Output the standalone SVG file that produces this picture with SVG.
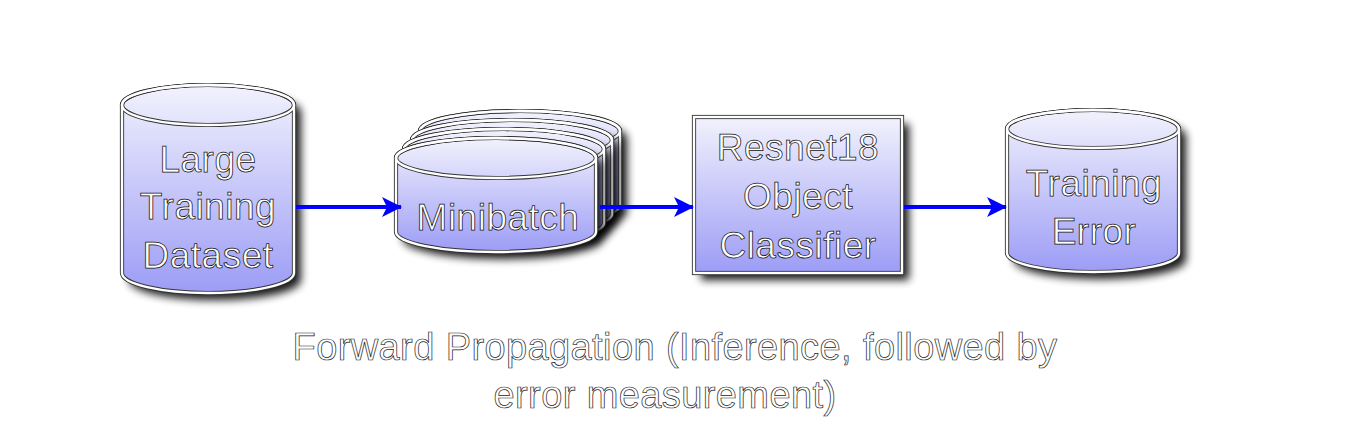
<svg xmlns="http://www.w3.org/2000/svg" width="1349" height="432" viewBox="0 0 1349 432">
<defs>
<linearGradient id="g" x1="0" y1="0" x2="0" y2="1">
<stop offset="0" stop-color="#f2f2fd"/>
<stop offset="1" stop-color="#9c9cf6"/>
</linearGradient>
<filter id="sh" x="-20%" y="-20%" width="150%" height="150%">
<feGaussianBlur in="SourceAlpha" stdDeviation="4"/>
<feOffset dx="7" dy="7"/>
<feComponentTransfer><feFuncA type="linear" slope="0.9"/></feComponentTransfer>
<feMerge><feMergeNode/><feMergeNode in="SourceGraphic"/></feMerge>
</filter>
<marker id="ah" viewBox="0 0 20 20" refX="19" refY="10" markerWidth="20" markerHeight="20" markerUnits="userSpaceOnUse" orient="auto">
<path d="M0,0 L20,10 L0,20 L5,10 Z" fill="#0000ff"/>
</marker>
</defs>
<style>
.edge{stroke:#333;stroke-width:4.2;fill:none}
.in{stroke:#fff;stroke-width:2.4;fill:none}
.body{fill:url(#g)}
.t{font-family:"Liberation Sans",Arial,sans-serif;font-size:37px;fill:#fff;stroke:#111;stroke-width:0.75;text-anchor:middle;letter-spacing:0.5px}
.c{font-family:"Liberation Sans",Arial,sans-serif;font-size:38px;fill:#fff;stroke:#222;stroke-width:0.7;text-anchor:middle;letter-spacing:0.4px}
.conn{stroke:#0000ff;stroke-width:4;fill:none}
</style>

<g id="dataset">
<g filter="url(#sh)">
<path class="body" d="M122,105 L122,273 A86,20 0 0 0 294,273 L294,105 A86,20 0 0 0 122,105 Z"/>
</g>
<path class="edge" d="M122,105 L122,273 A86,20 0 0 0 294,273 L294,105 A86,20 0 0 0 122,105 Z"/>
<ellipse class="edge" cx="208" cy="105" rx="86" ry="20"/>
<path class="in" d="M122,105 L122,273 A86,20 0 0 0 294,273 L294,105 A86,20 0 0 0 122,105 Z"/>
<ellipse class="in" cx="208" cy="105" rx="86" ry="20"/>
<text class="t" x="208" y="172">Large</text>
<text class="t" x="208" y="219">Training</text>
<text class="t" x="208" y="268">Dataset</text>
</g>

<g id="minibatch">
<g transform="translate(24,-27)">
<g filter="url(#sh)"><path class="body" d="M396,158 L396,232 A100,20 0 0 0 596,232 L596,158 A100,20 0 0 0 396,158 Z"/></g>
<path class="edge" d="M396,158 L396,232 A100,20 0 0 0 596,232 L596,158 A100,20 0 0 0 396,158 Z"/>
<ellipse class="edge" cx="496" cy="158" rx="100" ry="20"/>
<path class="in" d="M396,158 L396,232 A100,20 0 0 0 596,232 L596,158 A100,20 0 0 0 396,158 Z"/>
<ellipse class="in" cx="496" cy="158" rx="100" ry="20"/>
</g>
<g transform="translate(16,-18)">
<g filter="url(#sh)"><path class="body" d="M396,158 L396,232 A100,20 0 0 0 596,232 L596,158 A100,20 0 0 0 396,158 Z"/></g>
<path class="edge" d="M396,158 L396,232 A100,20 0 0 0 596,232 L596,158 A100,20 0 0 0 396,158 Z"/>
<ellipse class="edge" cx="496" cy="158" rx="100" ry="20"/>
<path class="in" d="M396,158 L396,232 A100,20 0 0 0 596,232 L596,158 A100,20 0 0 0 396,158 Z"/>
<ellipse class="in" cx="496" cy="158" rx="100" ry="20"/>
</g>
<g transform="translate(8,-9)">
<g filter="url(#sh)"><path class="body" d="M396,158 L396,232 A100,20 0 0 0 596,232 L596,158 A100,20 0 0 0 396,158 Z"/></g>
<path class="edge" d="M396,158 L396,232 A100,20 0 0 0 596,232 L596,158 A100,20 0 0 0 396,158 Z"/>
<ellipse class="edge" cx="496" cy="158" rx="100" ry="20"/>
<path class="in" d="M396,158 L396,232 A100,20 0 0 0 596,232 L596,158 A100,20 0 0 0 396,158 Z"/>
<ellipse class="in" cx="496" cy="158" rx="100" ry="20"/>
</g>
<g filter="url(#sh)"><path class="body" d="M396,158 L396,232 A100,20 0 0 0 596,232 L596,158 A100,20 0 0 0 396,158 Z"/></g>
<path class="edge" d="M396,158 L396,232 A100,20 0 0 0 596,232 L596,158 A100,20 0 0 0 396,158 Z"/>
<ellipse class="edge" cx="496" cy="158" rx="100" ry="20"/>
<path class="in" d="M396,158 L396,232 A100,20 0 0 0 596,232 L596,158 A100,20 0 0 0 396,158 Z"/>
<ellipse class="in" cx="496" cy="158" rx="100" ry="20"/>
<text class="t" x="498" y="230">Minibatch</text>
</g>

<g id="resnet">
<g filter="url(#sh)"><rect class="body" x="694" y="117" width="208" height="156"/></g>
<rect class="edge" x="694" y="117" width="208" height="156"/>
<rect class="in" x="694" y="117" width="208" height="156"/>
<text class="t" x="798" y="160">Resnet18</text>
<text class="t" x="798" y="209">Object</text>
<text class="t" x="798" y="258">Classifier</text>
</g>

<g id="error">
<g filter="url(#sh)"><path class="body" d="M1007,129 L1007,253 A86,19 0 0 0 1179,253 L1179,129 A86,19 0 0 0 1007,129 Z"/></g>
<path class="edge" d="M1007,129 L1007,253 A86,19 0 0 0 1179,253 L1179,129 A86,19 0 0 0 1007,129 Z"/>
<ellipse class="edge" cx="1093" cy="129" rx="86" ry="19"/>
<path class="in" d="M1007,129 L1007,253 A86,19 0 0 0 1179,253 L1179,129 A86,19 0 0 0 1007,129 Z"/>
<ellipse class="in" cx="1093" cy="129" rx="86" ry="19"/>
<text class="t" x="1094" y="196">Training</text>
<text class="t" x="1094" y="244">Error</text>
</g>

<g id="connectors">
<line class="conn" x1="296" y1="207" x2="401" y2="207" marker-end="url(#ah)"/>
<line class="conn" x1="600" y1="207" x2="693" y2="207" marker-end="url(#ah)"/>
<line class="conn" x1="904" y1="207" x2="1006" y2="207" marker-end="url(#ah)"/>
</g>

<g id="caption">
<text class="c" x="675" y="360">Forward Propagation (Inference, followed by</text>
<text class="c" x="665" y="408">error measurement)</text>
</g>
</svg>
